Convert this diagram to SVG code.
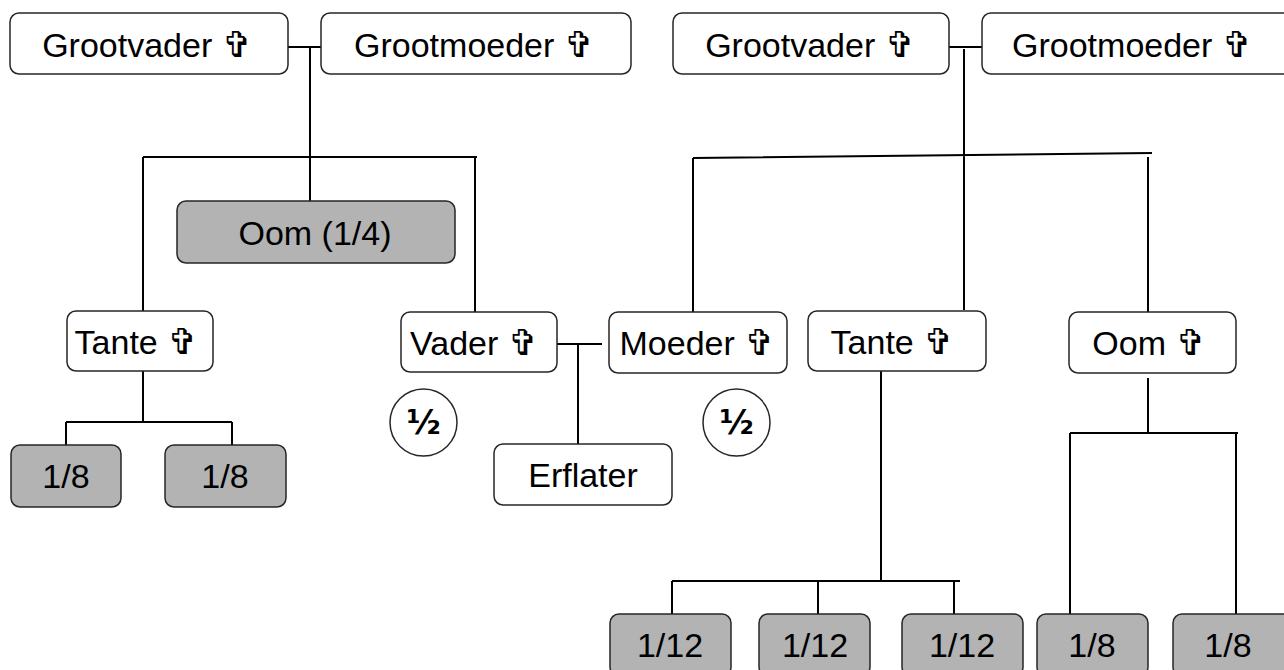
<svg xmlns="http://www.w3.org/2000/svg" width="1284" height="670" viewBox="0 0 1284 670">
<style>
.box{fill:#ffffff;stroke:#262626;stroke-width:1.5}
.g{fill:#b3b3b3}
.t{font-family:"Liberation Sans","DejaVu Sans",sans-serif;font-size:34px;fill:#000;text-anchor:middle}
.x{font-family:"DejaVu Sans",sans-serif;font-size:36px;font-weight:bold}
.half{font-family:"DejaVu Sans",sans-serif;font-size:33px;font-weight:bold;fill:#000;text-anchor:middle}
.c{fill:#fff;stroke:#262626;stroke-width:1.5}
.ln{stroke:#000;stroke-width:2;fill:none}
</style>
<rect width="1284" height="670" fill="#fff"/>
<g id="connectors">
<path class="ln" d="M288,47H321M310,47V201M143,157H477M143,157V311M475,157V312"/>
<path class="ln" d="M143,371V422M66,422H232M66,422V445M232,422V445"/>
<path class="ln" d="M557,344H602M578,344V444"/>
<path class="ln" d="M949,47H982M964,49V310M693,158L1152,153M693,158V312M1148,157V312"/>
<path class="ln" d="M881,371V581M672,581H960M672,581V614M818,581V614M954,581V614"/>
<path class="ln" d="M1148,378V433M1070,433H1238M1070,433V614M1236,433V614"/>
</g>
<g id="grootvader-l"><rect class="box" x="10" y="13" width="278" height="61" rx="9"/><text class="t" x="147" y="57">Grootvader <tspan class="x">✞</tspan></text></g>
<g id="grootmoeder-l"><rect class="box" x="321" y="13" width="310" height="61" rx="9"/><text class="t" x="474" y="57">Grootmoeder <tspan class="x">✞</tspan></text></g>
<g id="grootvader-r"><rect class="box" x="673" y="13" width="276" height="61" rx="9"/><text class="t" x="810" y="57">Grootvader <tspan class="x">✞</tspan></text></g>
<g id="grootmoeder-r"><rect class="box" x="982" y="13" width="312" height="61" rx="9"/><text class="t" x="1132" y="57">Grootmoeder <tspan class="x">✞</tspan></text></g>
<g id="oom-l"><rect class="box g" x="177" y="201" width="278" height="62" rx="9"/><text class="t" x="315" y="245">Oom (1/4)</text></g>
<g id="tante-l"><rect class="box" x="67" y="311" width="146" height="60" rx="9"/><text class="t" x="136" y="354">Tante <tspan class="x">✞</tspan></text></g>
<g id="vader"><rect class="box" x="401" y="312" width="156" height="60" rx="9"/><text class="t" x="474" y="355">Vader <tspan class="x">✞</tspan></text></g>
<g id="moeder"><rect class="box" x="609" y="312" width="178" height="61" rx="9"/><text class="t" x="697" y="355">Moeder <tspan class="x">✞</tspan></text></g>
<g id="tante-r"><rect class="box" x="808" y="311" width="178" height="60" rx="9"/><text class="t" x="892" y="354">Tante <tspan class="x">✞</tspan></text></g>
<g id="oom-r"><rect class="box" x="1069" y="312" width="167" height="61" rx="9"/><text class="t" x="1149" y="355">Oom <tspan class="x">✞</tspan></text></g>
<g id="half-l"><ellipse class="c" cx="423.5" cy="422.5" rx="33.5" ry="33.5"/><text class="half" x="423.5" y="434">½</text></g>
<g id="half-r"><ellipse class="c" cx="736.5" cy="422.5" rx="33.5" ry="33.5"/><text class="half" x="736.5" y="434">½</text></g>
<g id="erflater"><rect class="box" x="494" y="444" width="178" height="61" rx="9"/><text class="t" x="583" y="487">Erflater</text></g>
<g id="kind-l1"><rect class="box g" x="11" y="445" width="110" height="62" rx="9"/><text class="t" x="66" y="488">1/8</text></g>
<g id="kind-l2"><rect class="box g" x="165" y="445" width="121" height="62" rx="9"/><text class="t" x="225" y="488">1/8</text></g>
<g id="kind-r1"><rect class="box g" x="610" y="614" width="121" height="62" rx="9"/><text class="t" x="670" y="657">1/12</text></g>
<g id="kind-r2"><rect class="box g" x="759" y="614" width="111" height="62" rx="9"/><text class="t" x="815" y="657">1/12</text></g>
<g id="kind-r3"><rect class="box g" x="902" y="614" width="121" height="62" rx="9"/><text class="t" x="962" y="657">1/12</text></g>
<g id="kind-r4"><rect class="box g" x="1037" y="614" width="111" height="62" rx="9"/><text class="t" x="1092" y="657">1/8</text></g>
<g id="kind-r5"><rect class="box g" x="1173" y="614" width="121" height="62" rx="9"/><text class="t" x="1228" y="657">1/8</text></g>
</svg>
